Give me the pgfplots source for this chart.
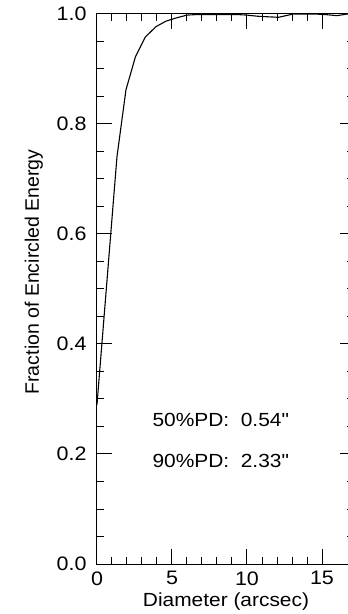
\documentclass[border=0pt]{standalone}
\usepackage{pgfplots}
\pgfplotsset{compat=1.18}
\usepackage{fontspec}
\setmainfont{Liberation Sans}[FakeStretch=1.1, Ligatures=TeXOff]
\newfontfamily\ylabfont{Liberation Sans}
\begin{document}
\begin{tikzpicture}
\useasboundingbox (-97bp,-50bp) rectangle (251bp,564bp);
\clip (-97bp,-50bp) rectangle (251bp,564bp);
\begin{axis}[
  at={(0,0)}, anchor=south west,
  scale only axis,
  width=258bp, height=550bp,
  xmin=0, xmax=17.2, ymin=0, ymax=1,
  xtick={0,5,10,15},
  ytick={0,0.2,0.4,0.6,0.8,1.0},
  minor x tick num=4,
  minor y tick num=3,
  tick align=inside,
  major tick length=15bp,
  minor tick length=7.5bp,
  axis line style={line width=1bp},
  every tick/.style={black, line width=1bp},
  /pgf/number format/assume math mode=true,
  yticklabel style={/pgf/number format/fixed, /pgf/number format/fixed zerofill, /pgf/number format/precision=1, xshift=-7bp},
  ticklabel style={font=\fontsize{19.5bp}{22bp}\selectfont},
  xticklabel style={yshift=-4bp},
  xlabel={Diameter (arcsec)},
  ylabel={Fraction of Encircled Energy},
  label style={font=\fontsize{19bp}{22bp}\selectfont},
  xlabel style={at={(axis description cs:0.5,0)}, anchor=base, yshift=-42bp},
  ylabel style={font=\fontsize{19.5bp}{22bp}\ylabfont, at={(axis description cs:-0.245,0.531)}, anchor=center},
  clip=true,
]
\addplot[black, line width=1.1bp] coordinates {
  (0,0.29) (1.33,0.74) (1.93,0.862) (2.56,0.922) (3.22,0.958) (3.93,0.977)
  (4.6,0.987) (5.3,0.993) (6.0,0.998) (6.67,0.999) (7.33,0.999) (8.0,0.999)
  (8.67,0.999) (9.33,0.999) (10.0,0.998) (10.67,0.996) (11.33,0.995) (12.1,0.994)
  (13.1,1.0) (13.8,1.0) (14.5,1.0) (15.2,0.999) (16.0,0.997) (16.7,1.0) (17.2,1.0)
};
\node[anchor=west, font=\fontsize{19bp}{22bp}\selectfont] at (axis cs:3.47,0.262) {50\%PD:\ \ 0.54"};
\node[anchor=west, font=\fontsize{19bp}{22bp}\selectfont] at (axis cs:3.47,0.187) {90\%PD:\ \ 2.33"};
\end{axis}
\end{tikzpicture}
\end{document}
